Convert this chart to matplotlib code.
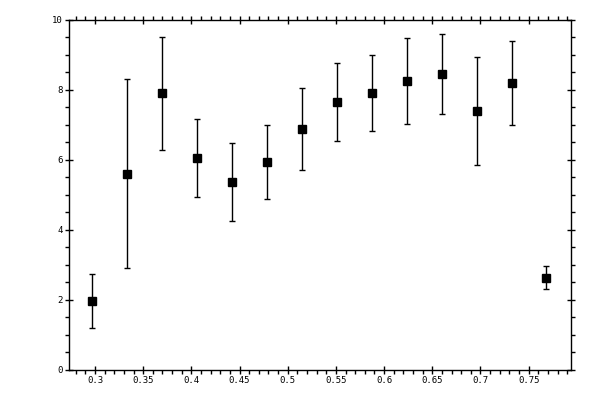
import numpy as np
import matplotlib
matplotlib.use("Agg")
import matplotlib.pyplot as plt
from matplotlib.ticker import MultipleLocator

# data
x_vals = [0.2972, 0.3335, 0.3698, 0.4061, 0.4424, 0.4787, 0.5150,
          0.5513, 0.5876, 0.6239, 0.6602, 0.6965, 0.7328, 0.7682]
y_vals = [1.96, 5.60, 7.89, 6.04, 5.35, 5.92, 6.87,
          7.64, 7.90, 8.24, 8.44, 7.38, 8.18, 2.62]
y_err = [0.76, 2.70, 1.62, 1.12, 1.12, 1.06, 1.16,
         1.12, 1.09, 1.23, 1.15, 1.55, 1.20, 0.33]

x_ticks = [0.3, 0.35, 0.4, 0.45, 0.5, 0.55, 0.6, 0.65, 0.7, 0.75]
x_tick_labels = ['0.3', '0.35', '0.4', '0.45', '0.5', '0.55', '0.6', '0.65', '0.7', '0.75']
y_ticks = [0, 2, 4, 6, 8, 10]
y_tick_labels = ['0', '2', '4', '6', '8', '10']

fig = plt.figure(figsize=(6, 4), dpi=100)
ax = fig.add_axes([0.1155, 0.07625, 0.8355, 0.875])

ax.errorbar(x_vals, y_vals, yerr=y_err, fmt='s', color='black',
            markersize=5.5, elinewidth=1.0, capsize=2.2, capthick=1.0)

ax.set_xlim(0.2733, 0.7935)
ax.set_ylim(0, 10)

ax.set_xticks(x_ticks)
ax.set_xticklabels(x_tick_labels)
ax.set_yticks(y_ticks)
ax.set_yticklabels(y_tick_labels)
ax.xaxis.set_minor_locator(MultipleLocator(0.01))
ax.yaxis.set_minor_locator(MultipleLocator(0.5))

for sp in ax.spines.values():
    sp.set_linewidth(1.0)

ax.tick_params(which='major', direction='inout', length=6, width=1.0,
               top=True, right=True, labelsize=6.5, pad=1.5)
ax.tick_params(which='minor', direction='out', length=2.6, width=1.0,
               top=True, right=True)
for lab in ax.get_xticklabels() + ax.get_yticklabels():
    lab.set_family('DejaVu Sans Mono')

fig.savefig('out.png', dpi=100)
